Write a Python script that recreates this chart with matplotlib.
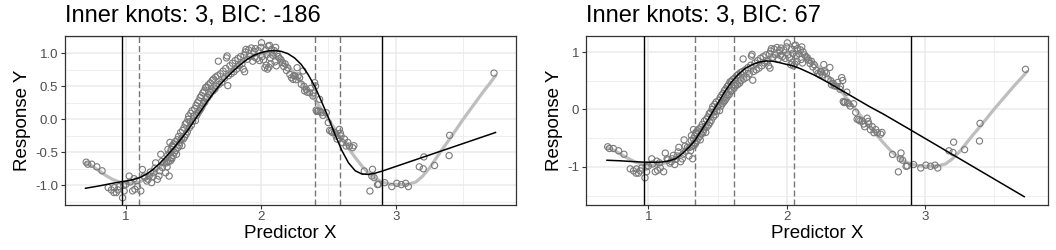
import matplotlib
matplotlib.use("Agg")
import matplotlib.pyplot as plt
import numpy as np

plt.rcParams['font.family'] = ['Liberation Sans', 'DejaVu Sans']
plt.rcParams['axes.unicode_minus'] = False

# ---- observed points (shared by both panels) ----
pts_x = [0.705, 0.717, 0.746, 0.784, 0.823, 0.868, 0.892, 0.911, 0.914, 0.928, 0.94, 0.95,
         0.975, 0.983, 0.987, 1.0, 1.024, 1.049, 1.066, 1.086, 1.11, 1.122, 1.135, 1.155, 1.172,
         1.19, 1.208, 1.22, 1.233, 1.245, 1.258, 1.27, 1.282, 1.294, 1.311, 1.326, 1.336, 1.343,
         1.03, 1.06, 1.08, 1.14, 1.165, 1.18, 1.2, 1.215, 1.25, 1.265,
         1.30, 1.305, 1.31, 1.315, 1.32, 1.325, 1.33, 1.335, 1.34, 1.345, 1.35, 1.355, 1.36, 1.365,
         1.37, 1.375, 1.38, 1.385, 1.39, 1.395, 1.40, 1.405, 1.41, 1.415, 1.42, 1.425, 1.43, 1.435,
         1.44, 1.445, 1.45, 1.455, 1.46, 1.465, 1.47, 1.475, 1.48, 1.485, 1.49, 1.495, 1.50, 1.51,
         1.515, 1.52, 1.525, 1.53, 1.535, 1.54, 1.545, 1.55, 1.555, 1.56, 1.565, 1.57, 1.575, 1.58,
         1.585, 1.59, 1.595, 1.60, 1.605, 1.61, 1.62, 1.625, 1.63, 1.64, 1.645, 1.65, 1.66, 1.665,
         1.67, 1.68, 1.685, 1.69, 1.70, 1.71, 1.72, 1.73, 1.74, 1.745, 1.75, 1.755, 1.76, 1.77,
         1.78, 1.79, 1.80, 1.81, 1.82, 1.83, 1.84, 1.85, 1.86, 1.87, 1.875, 1.88, 1.885, 1.89,
         1.90, 1.91, 1.92, 1.93, 1.94, 1.95, 1.955, 1.96, 1.97, 1.98, 1.99, 2.00, 2.005, 2.01,
         2.02, 2.03, 2.035, 2.04, 2.045, 2.05, 2.055, 2.06, 2.065, 2.07, 2.075, 2.08, 2.09, 2.10,
         2.105, 2.11, 2.115, 2.12, 2.13, 2.14,
         2.15, 2.16, 2.17, 2.18, 2.19, 2.20, 2.215, 2.227, 2.239, 2.245, 2.252, 2.26, 2.269, 2.276,
         2.288, 2.30, 2.313, 2.32, 2.325, 2.337, 2.345, 2.362, 2.37, 2.386, 2.39, 2.399, 2.406,
         2.41, 2.415, 2.423, 2.436, 2.44, 2.448, 2.46, 2.485, 2.50, 2.51, 2.522, 2.53, 2.546, 2.558,
         2.565, 2.583, 2.59, 2.595, 2.607, 2.62, 2.632, 2.645, 2.657, 2.681, 2.69,
         2.767, 2.809, 2.823, 2.828, 2.84, 2.865, 2.873,
         2.919, 2.971, 3.008, 3.042, 3.074, 3.094, 3.175, 3.204, 3.209, 3.288, 3.396, 3.40, 3.729]
pts_y = [-0.65, -0.68, -0.68, -0.72, -0.78, -1.035, -1.07, -1.11, -1.036, -1.11, -1.07, -1.02,
         -1.19, -1.0, -1.085, -0.985, -0.86, -1.085, -1.06, -1.02, -1.085, -0.76, -0.86, -0.935, -0.86,
         -0.96, -0.81, -0.66, -0.91, -0.86, -0.53, -0.73, -0.66, -0.81, -0.455, -0.35, -0.58, -0.40,
         -0.95, -0.90, -0.93, -0.88, -0.91, -0.80, -0.87, -0.74, -0.78, -0.64,
         -0.66, -0.72, -0.54, -0.64, -0.86, -0.51, -0.63, -0.46, -0.60, -0.41, -0.55, -0.37, -0.50, -0.34,
         -0.47, -0.53, -0.31, -0.43, -0.26, -0.40, -0.35, -0.20, -0.30, -0.40, -0.17, -0.30, -0.13, -0.27,
         -0.07, -0.23, -0.05, -0.19, 0.00, 0.05, -0.13, -0.04, 0.09, -0.09, 0.13, -0.03, 0.05, 0.16,
         -0.02, 0.21, 0.06, 0.25, 0.10, 0.28, 0.13, 0.33, 0.16, 0.36, 0.20, 0.40, 0.24, 0.43,
         0.26, 0.48, 0.31, 0.49, 0.33, 0.52, 0.37, 0.55, 0.41, 0.59, 0.43, 0.61, 0.46, 0.64,
         0.50, 0.66, 0.88, 0.53, 0.69, 0.56, 0.73, 0.62, 0.77, 0.93, 0.96, 0.51, 0.66, 0.81,
         0.69, 0.85, 0.72, 0.89, 0.76, 0.92, 0.81, 0.95, 0.84, 0.76, 0.97, 0.72, 1.02, 1.06,
         0.91, 1.05, 0.95, 1.08, 0.88, 1.03, 0.94, 1.07, 0.92, 1.04, 0.89, 1.09, 1.16, 0.95,
         0.90, 0.78, 1.05, 0.82, 0.98, 0.76, 1.11, 0.79, 1.12, 0.93, 0.84, 1.06, 0.97, 1.04,
         0.87, 1.09, 0.81, 1.00, 0.95, 0.92,
         0.90, 0.86, 0.80, 0.84, 0.74, 0.78, 0.68, 0.63, 0.605, 0.66, 0.656, 0.60, 0.782, 0.656,
         0.63, 0.53, 0.732, 0.50, 0.43, 0.454, 0.41, 0.403, 0.47, 0.353, 0.40, 0.555, 0.505,
         0.14, 0.12, 0.126, 0.302, 0.12, 0.10, 0.06, 0.10, -0.05, -0.17, -0.177, -0.20, -0.20, -0.253,
         -0.30, -0.152, -0.21, -0.253, -0.354, -0.30, -0.405, -0.35, -0.405, -0.43, -0.40,
         -0.783, -1.087, -0.86, -0.758, -0.884, -0.99, -0.985,
         -0.96, -1.02, -0.97, -0.99, -0.97, -1.02, -0.72, -0.75, -0.57, -0.70, -0.55, -0.243, 0.70]

# ---- underlying true curve (light gray) ----
true_x = [0.70, 0.75, 0.80, 0.85, 0.90, 0.95, 1.00, 1.05, 1.10, 1.15, 1.20, 1.25, 1.30, 1.35,
          1.40, 1.45, 1.50, 1.55, 1.60, 1.65, 1.70, 1.75, 1.80, 1.85, 1.90, 1.95, 2.00, 2.05,
          2.10, 2.15, 2.20, 2.25, 2.30, 2.35, 2.40, 2.45, 2.50, 2.55, 2.60, 2.65, 2.70, 2.75,
          2.80, 2.85, 2.90, 2.95, 3.00, 3.05, 3.10, 3.15, 3.20, 3.25, 3.30, 3.35, 3.40, 3.45,
          3.50, 3.55, 3.60, 3.65, 3.70, 3.74]
true_y = [-0.66, -0.71, -0.78, -0.85, -0.91, -0.95, -0.97, -0.97, -0.95, -0.90, -0.83, -0.73,
          -0.61, -0.47, -0.32, -0.16, 0.00, 0.15, 0.30, 0.44, 0.57, 0.68, 0.78, 0.86, 0.93,
          0.97, 0.99, 0.99, 0.96, 0.90, 0.81, 0.70, 0.57, 0.43, 0.30, 0.15, 0.00, -0.15, -0.30,
          -0.44, -0.58, -0.71, -0.82, -0.90, -0.95, -0.98, -0.99, -0.99, -0.98, -0.95, -0.86,
          -0.74, -0.59, -0.44, -0.30, -0.15, 0.00, 0.14, 0.28, 0.42, 0.55, 0.66]

# ---- fitted spline, panel 1 ----
fit1_x = [0.70, 0.80, 0.90, 0.968, 1.02, 1.06, 1.10, 1.15, 1.20, 1.25, 1.30, 1.35, 1.40, 1.45,
          1.50, 1.55, 1.60, 1.65, 1.70, 1.75, 1.80, 1.85, 1.90, 1.95, 2.00, 2.05, 2.10, 2.15,
          2.20, 2.25, 2.30, 2.35, 2.40, 2.45, 2.50, 2.55, 2.60, 2.65, 2.70, 2.75, 2.80, 2.85,
          2.90, 3.74]
fit1_y = [-1.045, -1.01, -0.97, -0.945, -0.93, -0.91, -0.885, -0.835, -0.76, -0.67, -0.56,
          -0.445, -0.32, -0.19, -0.04, 0.11, 0.26, 0.40, 0.53, 0.64, 0.74, 0.83, 0.91, 0.97,
          1.01, 1.035, 1.04, 1.03, 0.995, 0.93, 0.83, 0.68, 0.50, 0.27, 0.03, -0.23, -0.47,
          -0.66, -0.78, -0.83, -0.835, -0.815, -0.785, -0.20]

# ---- fitted spline, panel 2 ----
fit2_x = [0.70, 0.80, 0.90, 0.966, 1.05, 1.10, 1.15, 1.20, 1.25, 1.30, 1.336, 1.40, 1.45,
          1.50, 1.55, 1.60, 1.65, 1.70, 1.75, 1.80, 1.85, 1.90, 1.95, 2.00, 2.05, 2.10, 2.20,
          2.30, 2.40, 2.50, 2.60, 2.70, 2.80, 2.90, 3.72]
fit2_y = [-0.885, -0.895, -0.91, -0.918, -0.92, -0.915, -0.895, -0.855, -0.76, -0.64, -0.54,
          -0.30, -0.10, 0.10, 0.30, 0.475, 0.61, 0.715, 0.78, 0.825, 0.845, 0.84, 0.815, 0.785,
          0.757, 0.71, 0.60, 0.47, 0.33, 0.19, 0.05, -0.08, -0.22, -0.36, -1.52]

boundary1 = [0.968, 2.90]
inner1 = [1.098, 2.399, 2.585]
boundary2 = [0.966, 2.90]
inner2 = [1.336, 1.621, 2.05]

titles = ["Inner knots: 3, BIC: -186", "Inner knots: 3, BIC: 67"]
ylims = [(-1.291, 1.262), (-1.656, 1.28)]
yticks = [[-1.0, -0.5, 0.0, 0.5, 1.0], [-1, 0, 1]]
ytick_labels = [["-1.0", "-0.5", "0.0", "0.5", "1.0"], ["-1", "0", "1"]]
yminor = [[-1.25, -0.75, -0.25, 0.25, 0.75, 1.25], [-1.5, -0.5, 0.5]]
xticks = [1, 2, 3]
xminor = [1.5, 2.5, 3.5]

W, H = 1056, 250
fig = plt.figure(figsize=(W / 100, H / 100), dpi=100)
boxes = [(65, 516), (586, 1048)]
top, bottom = 36, 204.5

fits = [(fit1_x, fit1_y), (fit2_x, fit2_y)]
bounds = [boundary1, boundary2]
inners = [inner1, inner2]

for i in range(2):
    l, r = boxes[i]
    ax = fig.add_axes([l / W, 1 - bottom / H, (r - l) / W, (bottom - top) / H])
    ax.set_xlim(0.548, 3.892)
    ax.set_ylim(*ylims[i])
    ax.set_xticks(xticks)
    ax.set_xticklabels([str(t) for t in xticks])
    ax.set_xticks(xminor, minor=True)
    ax.set_yticks(yticks[i])
    ax.set_yticklabels(ytick_labels[i])
    ax.set_yticks(yminor[i], minor=True)
    ax.grid(True, which='major', color='#EBEBEB', lw=1.1, zorder=0)
    ax.grid(True, which='minor', color='#EBEBEB', lw=0.55, zorder=0)
    ax.set_axisbelow(True)
    ax.tick_params(which='major', length=3, width=0.8, color='#333333',
                   labelsize=9.5, labelcolor='#4D4D4D', pad=2)
    ax.tick_params(which='minor', length=0)
    for s in ax.spines.values():
        s.set_color('#333333')
        s.set_linewidth(0.9)

    ax.plot(true_x, true_y, color='#BEBEBE', lw=2.3, solid_capstyle='round', zorder=2)
    ax.scatter(pts_x, pts_y, s=20, facecolors='none', edgecolors='#7A7A7A',
               linewidths=0.8, zorder=3)
    for b in bounds[i]:
        ax.axvline(b, color='black', lw=1.0, zorder=4)
    for k in inners[i]:
        ax.axvline(k, color='#777777', lw=1.0, dashes=(4.3, 2.2), zorder=4)
    fx, fy = fits[i]
    ax.plot(fx, fy, color='black', lw=1.1, zorder=5)

    ax.set_title(titles[i], loc='left', fontsize=17, pad=10, color='black')
    ax.set_xlabel("Predictor X", fontsize=13.5, labelpad=1)
    ax.set_ylabel("Response Y", fontsize=13.5, labelpad=3)

fig.savefig("out.png", dpi=100)
